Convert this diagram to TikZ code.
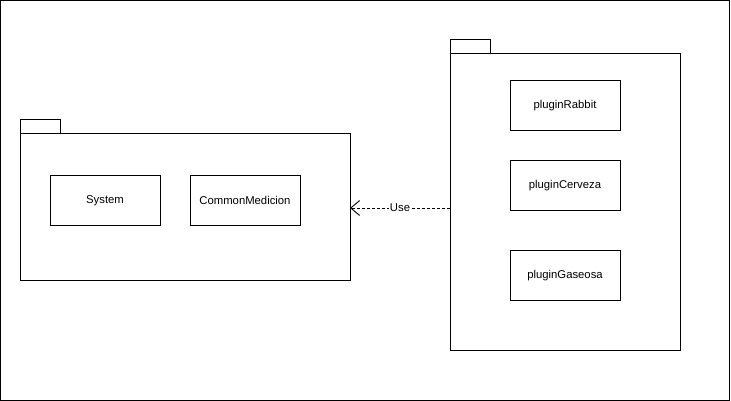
\documentclass[tikz,border=0pt]{standalone}
\usepackage{fontspec}
\setmainfont{Liberation Sans}
\usetikzlibrary{arrows.meta}
\begin{document}
\begin{tikzpicture}[x=1pt,y=-1pt,line width=1pt,
  classbox/.style={draw,minimum width=110pt,minimum height=50pt,inner sep=0pt,font=\fontsize{11.3}{13}\selectfont},
  pkgline/.style={draw},
  depline/.style={draw,dashed,dash pattern=on 3pt off 2pt,line width=0.8pt,-{Straight Barb[length=9pt,width=15pt,line width=0.9pt]}}]
  \useasboundingbox (0,0) rectangle (731,401);
  % outer frame
  \draw (0.5,0.5) rectangle (729.5,400.5);

  % left package
  \draw[pkgline] (20,120) rectangle (60,134);
  \draw[pkgline] (20,134) rectangle (350,280);
  \coordinate (leftpkg) at (350,208);
  \node[classbox] (system) at (105,200.5) {System};
  \node[classbox] (common) at (245,200.5) {CommonMedicion};

  % right package
  \draw[pkgline] (450,40) rectangle (490,54);
  \draw[pkgline] (450,54) rectangle (680,350);
  \coordinate (rightpkg) at (450,208);
  \node[classbox] (rabbit) at (565,105.5) {pluginRabbit};
  \node[classbox] (cerveza) at (565,185.5) {pluginCerveza};
  \node[classbox] (gaseosa) at (565,275.5) {pluginGaseosa};

  % dependency
  \draw[depline] (rightpkg) -- node[fill=white,inner sep=1pt,font=\fontsize{11.3}{13}\selectfont] (uselbl) {Use} (leftpkg);
\end{tikzpicture}
\end{document}
